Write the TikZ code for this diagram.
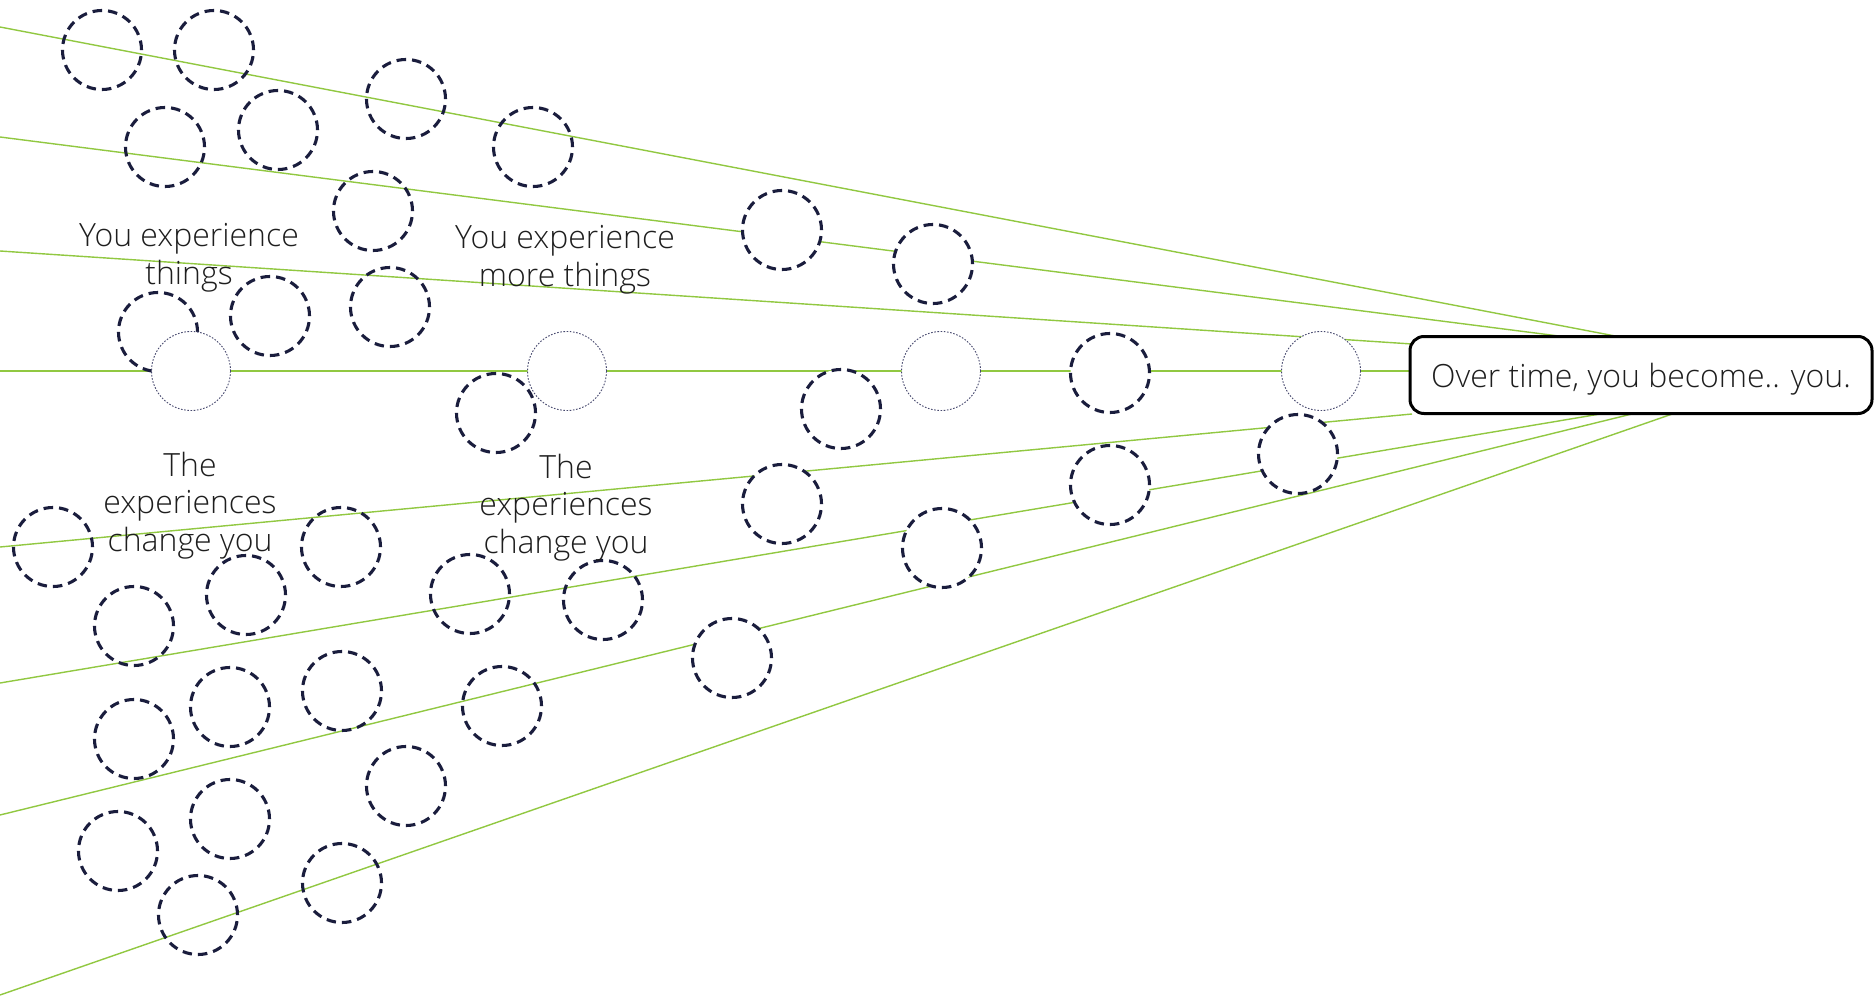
\documentclass[tikz,border=0pt]{standalone}
\usepackage{fontspec}
\setmainfont{Open Sans}[UprightFont=* Light]
\definecolor{lgreen}{RGB}{145,200,65}
\definecolor{navy}{RGB}{26,29,61}
\definecolor{dotc}{RGB}{70,72,110}
\definecolor{txt}{RGB}{30,30,30}
\begin{document}
\begin{tikzpicture}[x=1pt,y=-1pt,
  gline/.style={draw=lgreen,line width=1.4pt},
  mline/.style={draw=lgreen,line width=2.8pt},
  expc/.style={circle,draw=navy,line width=3.1pt,dash pattern=on 9.5pt off 6pt,minimum size=79pt,inner sep=0pt},
  expw/.style={expc,fill=white},
  selfc/.style={circle,draw=dotc,line width=0.9pt,dash pattern=on 1.6pt off 1.6pt,fill=white,minimum size=79pt,inner sep=0pt},
  lbl/.style={font=\fontsize{32}{37.5}\selectfont,text=txt,align=center,inner sep=0pt,anchor=base},
  ]
\useasboundingbox (0,0) rectangle (1874,1006);
\fill[white] (0,0) rectangle (1874,1006);

% line end points
\coordinate (s1) at (0,27);    \coordinate (e1) at (1636,340);
\coordinate (s2) at (0,137);   \coordinate (e2) at (1590,340);
\coordinate (s3) at (0,251);   \coordinate (e3) at (1412,344);
\coordinate (s4) at (0,371);   \coordinate (e4) at (1412,371);
\coordinate (s5) at (0,547);   \coordinate (e5) at (1412,414);
\coordinate (s6) at (0,683);   \coordinate (e6) at (1612,412);
\coordinate (s7) at (0,815);   \coordinate (e7) at (1640,412);
\coordinate (s8) at (0,995);   \coordinate (e8) at (1678,412);

\draw[gline] (s1) -- (e1);
\draw[gline] (s2) -- (e2);
\draw[gline] (s3) -- (e3);
\draw[mline] (s4) -- (e4);
\draw[gline] (s5) -- (e5);
\draw[gline] (s6) -- (e6);
\draw[gline] (s7) -- (e7);
\draw[gline] (s8) -- (e8);

% experiences crossed by the lines (open)
\node[expc] (a) at (102,50) {};
\node[expc] (b) at (214,50) {};
\node[expc] (c) at (406,99) {};
\node[expc] (d) at (165,147) {};
\node[expc] (e) at (278,130) {};
\node[expc] (f) at (533,147) {};
\node[expc] (g) at (373,211) {};
\node[expc] (j) at (270,316) {};
\node[expc] (k) at (390,307) {};
\node[expc] (l) at (158,332) {};
\node[expc] (q1) at (53,547) {};
\node[expc] (q2) at (341,547) {};
\node[expc] (q3) at (134,626) {};
\node[expc] (q4) at (246,595) {};
\node[expc] (q5) at (470,594) {};
\node[expc] (q6) at (603,600) {};
\node[expc] (q7) at (134,739) {};
\node[expc] (q8) at (230,707) {};
\node[expc] (q9) at (342,691) {};
\node[expc] (q10) at (502,706) {};
\node[expc] (q11) at (118,851) {};
\node[expc] (q12) at (230,819) {};
\node[expc] (q13) at (406,786) {};
\node[expc] (q14) at (198,915) {};
\node[expc] (q15) at (342,883) {};

% experiences that interrupt the lines
\node[expw] (h) at (782,230) {};
\node[expw] (i) at (933,264) {};
\node[expw] (r1) at (841,409) {};
\node[expw] (r2) at (1110,373) {};
\node[expw] (r3) at (782,504) {};
\node[expw] (r4) at (942,548) {};
\node[expw] (r5) at (732,658) {};
\node[expw] (r6) at (1110,485) {};
\node[expw] (r7) at (1298,454) {};

% the self over time
\node[selfc] (y1) at (191,371) {};
\node[selfc] (y2) at (567,371) {};
\node[selfc] (y3) at (941,371) {};
\node[selfc] (y4) at (1321,371) {};

\node[expc] (m) at (496,413) {};

% result box
\node[draw=black,line width=3pt,rounded corners=14pt,fill=white,
      minimum width=462pt,minimum height=77pt,inner sep=0pt,
      font=\fontsize{32}{37.5}\selectfont,text=txt,text height=24pt,text depth=0pt]
  (box) at (1641,375) {Over time, you become.. you.};

% labels (anchored at the baseline of the last line)
\node[lbl] (t1) at (189,284) {You experience\\things};
\node[lbl] (t2) at (565,286) {You experience\\more things};
\node[lbl] (t3) at (190,551) {The\\experiences\\change you};
\node[lbl] (t4) at (566,553) {The\\experiences\\change you};
\end{tikzpicture}
\end{document}
